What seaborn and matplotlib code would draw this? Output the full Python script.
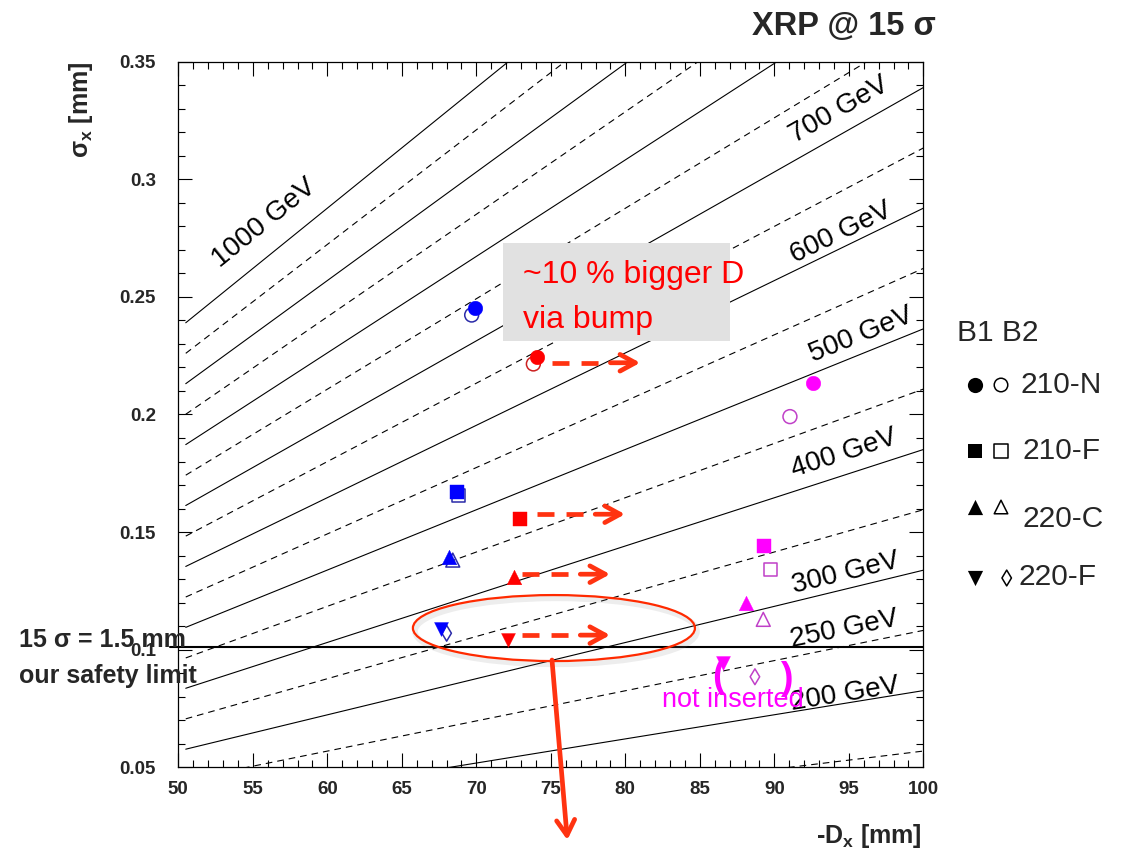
import numpy as np
import pandas as pd
import matplotlib
matplotlib.use("Agg")
import matplotlib.pyplot as plt
import seaborn as sns
from matplotlib.patches import Ellipse, Rectangle
from matplotlib.ticker import MultipleLocator

# ---------------- data ----------------
# constant-mass lines: sigma_x at D = 50.5 mm (left end) and D = 100 mm (right end)
masses = [150, 200, 250, 300, 350, 400, 450, 500, 550, 600, 650, 700, 750, 800, 850, 900, 950, 1000]
line_D = [50.5, 100.0]
sigma_at_left = [0.0188, 0.0318, 0.0447, 0.0577, 0.0706, 0.0836, 0.0965, 0.1095, 0.1224,
                 0.1354, 0.1483, 0.1613, 0.1742, 0.1872, 0.2001, 0.2131, 0.2260, 0.2390]
sigma_at_right = [0.0569, 0.0826, 0.1082, 0.1338, 0.1595, 0.1851, 0.2108, 0.2364, 0.2621,
                  0.2877, 0.3133, 0.3390, 0.3646, 0.3903, 0.4159, 0.4415, 0.4672, 0.4928]
label_masses = [1000, 700, 600, 500, 400, 300, 250, 200]
label_texts = ["1000 GeV", "700 GeV", "600 GeV", "500 GeV", "400 GeV", "300 GeV", "250 GeV", "200 GeV"]
label_D = [52.8, 91.4, 91.4, 92.6, 91.3, 91.3, 91.2, 91.2]
label_sigma = [0.2623, 0.3153, 0.2643, 0.2224, 0.1736, 0.1240, 0.1013, 0.0744]

stations = ["210-N", "210-F", "220-C", "220-F"]
blue_B1_D = [69.91, 68.68, 68.19, 67.61]
blue_B1_sig = [0.2452, 0.1672, 0.1395, 0.1087]
blue_B2_D = [69.69, 68.79, 68.42, 68.01]
blue_B2_sig = [0.2423, 0.1655, 0.1381, 0.1070]
red_B1_D = [74.05, 72.93, 72.55, 72.15]
red_B1_sig = [0.2246, 0.1554, 0.1308, 0.1041]
red_B2_stations = ["210-N"]
red_B2_D = [73.83]
red_B2_sig = [0.2215]
mag_B1_D = [92.62, 89.31, 88.10, 86.54]
mag_B1_sig = [0.2133, 0.1441, 0.1197, 0.0942]
mag_B2_D = [91.05, 89.76, 89.26, 88.70]
mag_B2_sig = [0.1991, 0.1342, 0.1129, 0.0885]

# "bigger D via bump" arrows
arrow_x0 = [75.08, 74.05, 73.05, 73.05]
arrow_x1 = [81.0, 79.98, 78.98, 78.98]
arrow_y = [0.2220, 0.1576, 0.1321, 0.1062]

safety_sigma = 0.1013

xticks = [50, 55, 60, 65, 70, 75, 80, 85, 90, 95, 100]
xticklabels = ["50", "55", "60", "65", "70", "75", "80", "85", "90", "95", "100"]
yticks = [0.05, 0.10, 0.15, 0.20, 0.25, 0.30, 0.35]
yticklabels = ["0.05", "0.1", "0.15", "0.2", "0.25", "0.3", "0.35"]

# ---------------- style ----------------
sns.set_style("ticks")
plt.rcParams["font.family"] = ["Liberation Sans", "DejaVu Sans"]
plt.rcParams["mathtext.fontset"] = "custom"
plt.rcParams["mathtext.rm"] = "Liberation Sans"
plt.rcParams["mathtext.bf"] = "Liberation Sans:bold"
plt.rcParams["mathtext.it"] = "Liberation Sans:italic"

W, H = 1128, 851
fig = plt.figure(figsize=(W / 100, H / 100), dpi=100)
fig.patch.set_facecolor("white")
L, R, T, B = 178.3, 923.3, 61.7, 767.3
ax = fig.add_axes([L / W, (H - B) / H, (R - L) / W, (B - T) / H])
ax.set_facecolor("white")

# constant-mass lines
rows = []
for m, sl, sr in zip(masses, sigma_at_left, sigma_at_right):
    kind = "solid" if m % 100 == 0 else "dashed"
    rows.append((m, line_D[0], sl, kind))
    rows.append((m, line_D[1], sr, kind))
lines_df = pd.DataFrame(rows, columns=["M", "D", "sigma", "kind"])
sns.lineplot(data=lines_df, x="D", y="sigma", units="M", style="kind", estimator=None,
             color="black", linewidth=0.8, dashes={"solid": "", "dashed": (6, 4.5)},
             legend=False, sort=False, ax=ax, zorder=2)

# line labels
slope_of = {m: (sr - sl) / (line_D[1] - line_D[0]) for m, sl, sr in zip(masses, sigma_at_left, sigma_at_right)}
for m, txt, d, s in zip(label_masses, label_texts, label_D, label_sigma):
    ang = np.degrees(np.arctan(slope_of[m]))
    ax.text(d, s, txt, rotation=ang, transform_rotates_text=True, rotation_mode="anchor",
            ha="left", va="baseline", fontsize=20, color="black", zorder=3)

# safety limit line
ax.axhline(safety_sigma, xmin=-0.011, xmax=1.0, color="black", lw=1.5, clip_on=False, zorder=4)

# gray box with red text
ax.add_patch(Rectangle((71.79, 0.2313), 87.03 - 71.79, 0.2729 - 0.2313,
                       facecolor="#e1e1e1", edgecolor="none", zorder=5))
ax.text(73.13, 0.2593, "~10 % bigger D", color="#ff0000", fontsize=23, ha="left", va="center", zorder=6)
ax.text(73.13, 0.2401, "via bump", color="#ff0000", fontsize=23, ha="left", va="center", zorder=6)

# data points
fill_colors = {"blue": "#0000ff", "red": "#ff0000", "magenta": "#ff00ff"}
open_colors = {"blue": "#2a2aa8", "red": "#cc2020", "magenta": "#c040c8"}
b1_markers = {"210-N": "o", "210-F": "s", "220-C": "^", "220-F": "v"}
b2_markers = {"210-N": "o", "210-F": "s", "220-C": "^", "220-F": "d"}
b1_sizes = {"210-N": 110, "210-F": 100, "220-C": 110, "220-F": 100}
b2_sizes = {"210-N": 100, "210-F": 90, "220-C": 100, "220-F": 65}

pts = []
for setname, beam, st_list, Ds, Ss in [
    ("blue", "B1", stations, blue_B1_D, blue_B1_sig),
    ("blue", "B2", stations, blue_B2_D, blue_B2_sig),
    ("red", "B1", stations, red_B1_D, red_B1_sig),
    ("red", "B2", red_B2_stations, red_B2_D, red_B2_sig),
    ("magenta", "B1", stations, mag_B1_D, mag_B1_sig),
    ("magenta", "B2", stations, mag_B2_D, mag_B2_sig),
]:
    for st, d, s in zip(st_list, Ds, Ss):
        pts.append((setname, beam, st, d, s))
pts_df = pd.DataFrame(pts, columns=["set", "beam", "station", "D", "sigma"])

for (setname, beam, st), sub in pts_df.groupby(["set", "beam", "station"]):
    if beam == "B1":
        sns.scatterplot(data=sub, x="D", y="sigma", marker=b1_markers[st], s=b1_sizes[st],
                        color=fill_colors[setname], edgecolor=fill_colors[setname],
                        linewidth=0.3, legend=False, ax=ax, zorder=8)
    else:
        sns.scatterplot(data=sub, x="D", y="sigma", marker=b2_markers[st], s=b2_sizes[st],
                        color=open_colors[setname], facecolor="none", edgecolor=open_colors[setname],
                        linewidth=1.1, legend=False, ax=ax, zorder=7)

# dashed arrows
acol = "#ff3311"
for x0, x1, y in zip(arrow_x0, arrow_x1, arrow_y):
    ax.plot([x0, x1 - 2.0], [y, y], color=acol, lw=3.4, linestyle=(0, (3.6, 2.55)),
            solid_capstyle="butt", dash_capstyle="butt", zorder=9)
    ax.annotate("", xy=(x1, y), xytext=(x1 - 2.0, y),
                arrowprops=dict(arrowstyle="->,head_length=1.1,head_width=0.6", lw=3.4,
                                color=acol, shrinkA=0, shrinkB=0), zorder=9)

# ellipse with soft shadow
ax.add_patch(Ellipse((75.35, 0.1078), 18.93, 0.02806, facecolor="none", edgecolor="#888888",
                     lw=4, alpha=0.15, zorder=8))
ax.add_patch(Ellipse((75.21, 0.1092), 18.93, 0.02806, facecolor="none", edgecolor="#ff2a00",
                     lw=1.6, zorder=9))

# long arrow going down out of the frame
ax.annotate("", xy=(76.11, 0.0191), xytext=(75.08, 0.0956),
            arrowprops=dict(arrowstyle="->,head_length=1.1,head_width=0.65", lw=3.4,
                            color=acol, shrinkA=0, shrinkB=0),
            annotation_clip=False, zorder=10)

# "not inserted"
ax.text(82.46, 0.0786, "not inserted", color="#ff00ff", fontsize=19.5, ha="left", va="center", zorder=10)
ax.text(86.27, 0.0884, "(", color="#ff00ff", fontsize=27, fontweight="bold", ha="center", va="center", zorder=10)
ax.text(90.83, 0.0875, ")", color="#ff00ff", fontsize=27, fontweight="bold", ha="center", va="center", zorder=10)

# axes formatting
ax.set_xlim(50, 100)
ax.set_ylim(0.05, 0.35)
ax.set_xticks(xticks, labels=xticklabels, fontweight="bold", fontsize=13.5)
ax.set_yticks(yticks, labels=yticklabels, fontweight="bold", fontsize=13.5)
ax.xaxis.set_minor_locator(MultipleLocator(1))
ax.yaxis.set_minor_locator(MultipleLocator(0.01))
ax.tick_params(which="both", direction="in", top=True, right=True, width=0.8, color="black")
ax.tick_params(which="major", length=10)
ax.tick_params(which="minor", length=5)
ax.tick_params(axis="x", which="major", pad=10)
ax.tick_params(axis="y", which="major", pad=16)
ax.set_xlabel("")
ax.set_ylabel("")
for sp in ax.spines.values():
    sp.set_linewidth(0.9)
    sp.set_color("black")

# ---------------- pixel-placed decorations ----------------
pax = fig.add_axes([0, 0, 1, 1], zorder=5)
pax.set_xlim(0, W)
pax.set_ylim(H, 0)
pax.set_axis_off()
pax.patch.set_alpha(0)

pax.text(752, 35, "XRP @ 15 σ", fontsize=23.5, fontweight="bold", ha="left", va="baseline")
pax.text(81, 62, "σ$_{\\mathbf{x}}$ [mm]", fontsize=18, fontweight="bold", rotation=90, ha="center", va="top")
pax.text(922, 843, "-D$_{\\mathbf{x}}$ [mm]", fontsize=18, fontweight="bold", ha="right", va="baseline")
pax.text(19, 646.7, "15 σ = 1.5 mm", fontsize=18, fontweight="bold", ha="left", va="baseline")
pax.text(19, 683, "our safety limit", fontsize=18, fontweight="bold", ha="left", va="baseline")

# legend
pax.text(957, 333, "B1 B2", fontsize=21.5, ha="left", va="center")
leg_rows = [("o", "o", 385, 385, 1020, "210-N"),
            ("s", "s", 451, 451, 1022, "210-F"),
            ("^", "^", 507, 519, 1022, "220-C"),
            ("v", "d", 578, 577, 1018, "220-F")]
for mf, mo, ym, yt, xt, txt in leg_rows:
    pax.scatter([975], [ym], marker=mf, s=120 if mf != "s" else 105, color="black", linewidths=0)
    xo = 1006.7 if mo == "d" else 1001
    pax.scatter([xo], [ym], marker=mo, s=95 if mo != "d" else 65, facecolor="none", edgecolor="black", linewidths=1.1)
    pax.text(xt, yt, txt, fontsize=21.5, ha="left", va="center")

fig.savefig("out.png", dpi=100, facecolor="white")
